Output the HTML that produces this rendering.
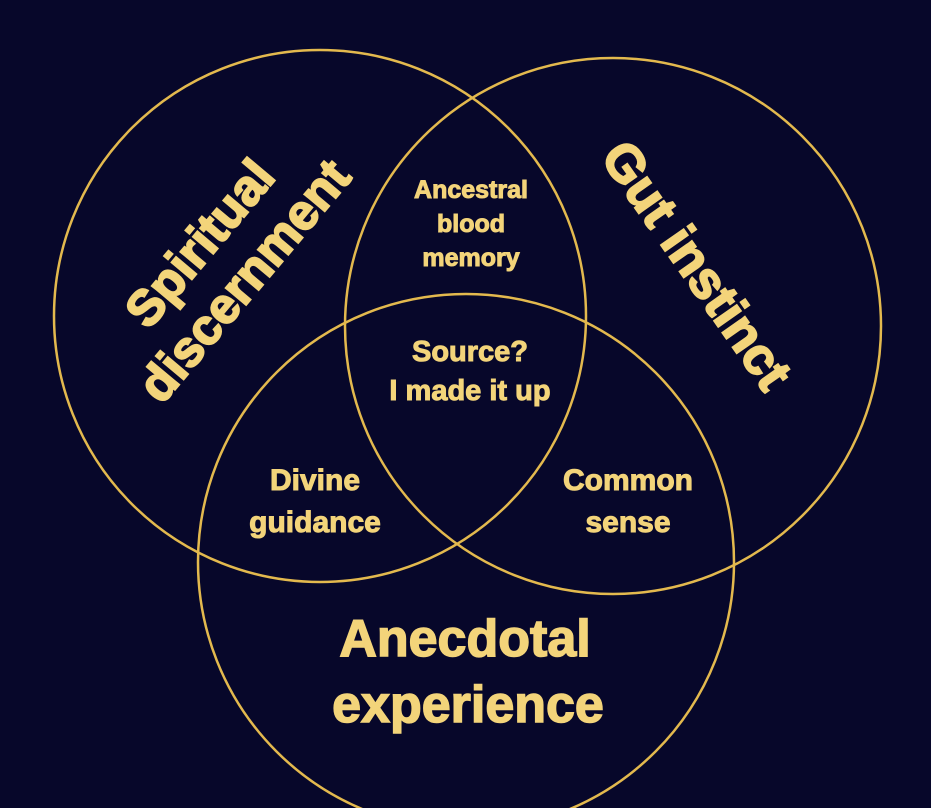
<!DOCTYPE html>
<html><head><meta charset="utf-8"><style>
html,body{margin:0;padding:0;background:#07072a;}
svg{display:block}
text{font-family:"Liberation Sans",sans-serif;font-weight:bold;fill:#f3d47a;stroke:#f3d47a;}
</style></head><body>
<svg width="931" height="808" viewBox="0 0 931 808">
<rect width="931" height="808" fill="#07072a"/>
<g fill="none" stroke="#e3b94e" stroke-width="2.5">
<circle cx="320" cy="316" r="266"/>
<circle cx="613" cy="326" r="268"/>
<circle cx="466" cy="562" r="268"/>
</g>
<g text-anchor="middle">
<g transform="translate(222,262) rotate(-50)" stroke-width="2">
<text x="0" y="-12" font-size="50">Spiritual</text>
<text x="0" y="46" font-size="50">discernment</text>
</g>
<g transform="translate(697,265) rotate(55)" stroke-width="2">
<text x="0" y="18" font-size="52">Gut instinct</text>
</g>
<g stroke-width="1">
<text x="471" y="198" font-size="25">Ancestral</text>
<text x="471" y="232" font-size="25">blood</text>
<text x="471" y="266" font-size="25">memory</text>
<text x="470" y="361" font-size="29">Source?</text>
<text x="470" y="400" font-size="29">I made it up</text>
<text x="315" y="490" font-size="30">Divine</text>
<text x="315" y="532" font-size="30">guidance</text>
<text x="628" y="490" font-size="30">Common</text>
<text x="628" y="532" font-size="30">sense</text>
</g>
<g stroke-width="1.5">
<text x="465" y="656" font-size="52">Anecdotal</text>
<text x="468" y="722" font-size="52">experience</text>
</g>
</g>
</svg>
</body></html>
